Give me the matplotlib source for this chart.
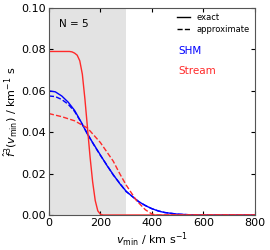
import numpy as np
import matplotlib.pyplot as plt

# values
v_shm = [0, 25, 50, 75, 100, 125, 150, 175, 200, 225, 250, 275, 300, 325, 350,
         375, 400, 425, 450, 500, 550, 600, 800]
shm_exact = [0.0600, 0.0595, 0.0575, 0.0545, 0.0505, 0.0450, 0.0390, 0.0340,
             0.0290, 0.0240, 0.0195, 0.0152, 0.0115, 0.0088, 0.0064, 0.0045,
             0.0031, 0.0019, 0.0012, 0.0004, 0.0001, 0.0, 0.0]
shm_approx = [0.0575, 0.0572, 0.0558, 0.0535, 0.0500, 0.0448, 0.0392, 0.0338,
              0.0288, 0.0242, 0.0193, 0.0154, 0.0113, 0.0089, 0.0063, 0.0046,
              0.0030, 0.0020, 0.0012, 0.0004, 0.0001, 0.0, 0.0]

v_str = [0, 80, 90, 100, 110, 120, 130, 140, 150, 160, 170, 180, 190, 200,
         210, 800]
str_exact = [0.079, 0.079, 0.0788, 0.0782, 0.0772, 0.0745, 0.068, 0.056,
             0.042, 0.028, 0.016, 0.007, 0.002, 0.0004, 0.0, 0.0]

v_str2 = [0, 50, 100, 150, 200, 250, 275, 300, 340, 375, 400, 415, 800]
str_approx = [0.049, 0.0475, 0.0455, 0.042, 0.035, 0.026, 0.020, 0.0145,
              0.007, 0.0025, 0.0005, 0.0, 0.0]

fig = plt.figure(figsize=(2.7, 2.5), dpi=100)
ax = fig.add_axes([0.181, 0.14, 0.763, 0.828])

ax.axvspan(0, 300, color='#e3e3e3', lw=0)
ax.plot(v_shm, shm_exact, color='blue', lw=1)
ax.plot(v_shm, shm_approx, color='blue', lw=1, ls='--')
ax.plot(v_str, str_exact, color='#ff2a2a', lw=1)
ax.plot(v_str2, str_approx, color='#ff2a2a', lw=1, ls='--')

# legend: line styles only
ax.plot([], [], color='k', lw=1, label='exact')
ax.plot([], [], color='k', lw=1, ls='--', label='approximate')
ax.legend(loc='upper right', frameon=False, fontsize=6, handlelength=1.5,
          borderaxespad=0.2, labelspacing=0.3)
ax.text(0.63, 0.78, 'SHM', color='blue', fontsize=7.5, transform=ax.transAxes)
ax.text(0.63, 0.68, 'Stream', color='#ff2a2a', fontsize=7.5, transform=ax.transAxes)
ax.text(0.05, 0.91, 'N = 5', fontsize=7.5, transform=ax.transAxes)

ax.set_xlim(0, 800)
ax.set_ylim(0, 0.1)
ax.set_xticks([0, 200, 400, 600, 800])
ax.set_yticks([0, 0.02, 0.04, 0.06, 0.08, 0.10])
ax.set_yticklabels(['0.00', '0.02', '0.04', '0.06', '0.08', '0.10'])
ax.tick_params(direction='in', top=True, right=True, labelsize=8, length=3, pad=2)
for s in ax.spines.values():
    s.set_color('#555555')

ax.set_xlabel(r'$v_{\rm min}$ / km s$^{-1}$', fontsize=8, labelpad=2)
ax.set_ylabel(r'$\hat{f}^3(v_{\rm min})$ / km$^{-1}$ s', fontsize=8, labelpad=2)

fig.savefig('out.png', dpi=100)
